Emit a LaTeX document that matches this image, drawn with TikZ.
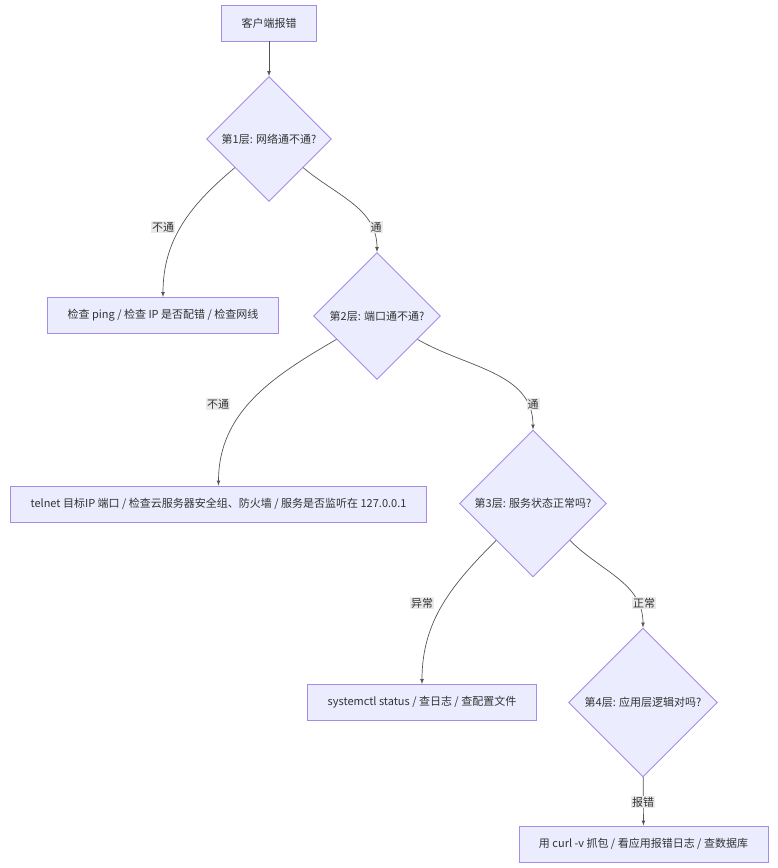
\documentclass[tikz,border=0pt]{standalone}
\usepackage{fontspec}
\setmainfont{Noto Sans CJK SC}
\usepackage{tikz}
\usetikzlibrary{shapes.geometric}
\definecolor{boxclr}{HTML}{ECECFF}
\definecolor{rimclr}{HTML}{A58CE6}
\definecolor{lineclr}{HTML}{555555}
\definecolor{txtclr}{HTML}{333333}
\definecolor{lblclr}{HTML}{EAEAEA}
\tikzset{ %
  ,>=latex
  ,every node/.style={font=\fontsize{11}{13}\selectfont, text=txtclr}
  ,action/.style={draw=rimclr, fill=boxclr, line width=0.9pt, rectangle, inner xsep=20pt, minimum height=36pt}
  ,decision/.style={draw=rimclr, fill=boxclr, line width=0.9pt, diamond, aspect=1, inner sep=0}
  ,cond/.style={fill=lblclr, inner sep=1pt}
}

\begin{document}
\begin{tikzpicture}[x=1pt, y=1pt]
      \useasboundingbox (0,0) rectangle (778,-868);
      \draw 
      node[action] (start) at (269,-23) {客户端报错}
      node[decision, minimum size=125pt] (L1) at (269,-139) {第1层: 网络通不通?}
      node[action] (net) at (163,-315.5) {检查 ping / 检查 IP 是否配错 / 检查网线}
      node[decision, minimum size=127pt] (L2) at (377,-316) {第2层: 端口通不通?}
      node[action] (port) at (218.5,-504) {telnet 目标IP 端口 / 检查云服务器安全组、防火墙 / 服务是否监听在 127.0.0.1}
      node[decision, minimum size=147pt] (L3) at (533,-503.5) {第3层: 服务状态正常吗?}
      node[action] (svc) at (422,-702.5) {systemctl status / 查日志 / 查配置文件}
      node[decision, minimum size=149pt] (L4) at (643,-702.5) {第4层: 应用层逻辑对吗?}
      node[action] (app) at (643.5,-844) {用 curl -v 抓包 / 看应用报错日志 / 查数据库};
      \draw [->, lineclr, line width=0.7pt] (start) edge (L1)
        (L1) edge[out=-140, in=90] (net) (L1) edge[out=-40, in=90] (L2)
        (L2) edge[out=-150, in=90] (port) (L2) edge[out=-30, in=90] (L3)
        (L3) edge[out=-135, in=90] (svc) (L3) edge[out=-45, in=90] (L4)
        (L4) edge (app);
      \draw 
      node[cond] (c1) at (163,-227) {不通}
      node[cond] (c2) at (376,-227) {通}
      node[cond] (c3) at (218,-404) {不通}
      node[cond] (c4) at (533,-404) {通}
      node[cond] (c5) at (422,-603) {异常}
      node[cond] (c6) at (644,-603) {正常}
      node[cond] (c7) at (643,-802) {报错};
    \end{tikzpicture}
\end{document}
